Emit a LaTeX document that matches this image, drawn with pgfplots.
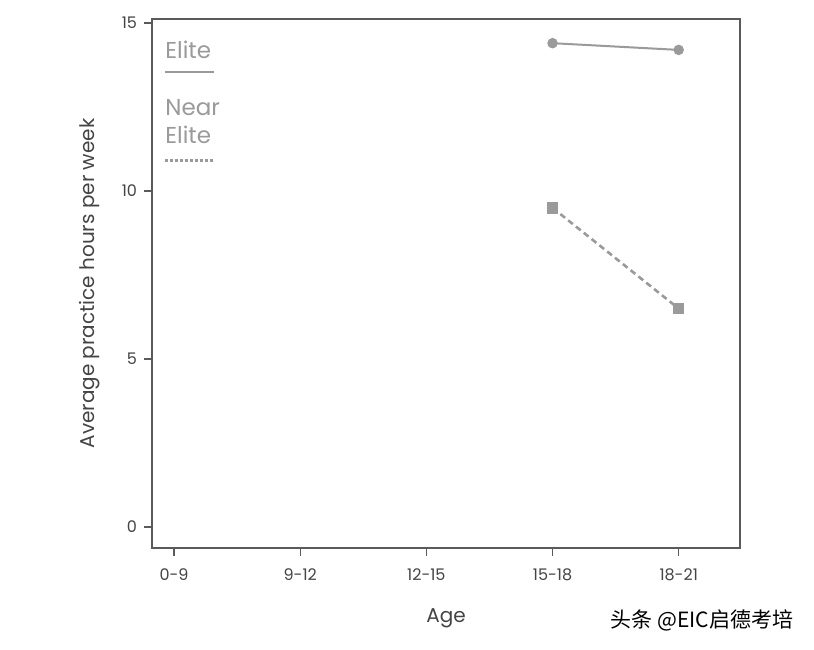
\documentclass[border=0pt]{standalone}
\usepackage{pgfplots}
\pgfplotsset{compat=1.18}
\usepackage{fontspec}
\setmainfont{Poppins}
\newfontfamily\cjk{Noto Sans CJK SC}
\definecolor{axisgray}{HTML}{5A5A5A}
\definecolor{datagray}{HTML}{9A9A9A}
\definecolor{textgray}{HTML}{444444}
\begin{document}
\begin{tikzpicture}
\useasboundingbox (0pt,0pt) rectangle (407pt,324.5pt);
\begin{axis}[
  at={(76pt,50.5pt)}, anchor=south west,
  scale only axis, width=294pt, height=264.5pt,
  xmin=-0.175, xmax=4.486, ymin=-0.625, ymax=15.12,
  xtick={0,1,2,3,4}, xticklabels={0-9,9-12,12-15,15-18,18-21},
  ytick={0,5,10,15},
  axis line style={axisgray, line width=0.9pt},
  tick style={axisgray, line width=0.7pt},
  tick align=outside, tick pos=left,
  major tick length=4pt,
  ticklabel style={font=\fontsize{8}{9}\selectfont, text=textgray},
  /pgf/number format/assume math mode=true,
  xticklabel style={yshift=-3pt},
  xlabel={Age}, ylabel={Average practice hours per week},
  label style={font=\fontsize{10}{12}\selectfont, text=textgray},
  xlabel style={yshift=-7pt},
  ylabel style={yshift=4pt},
  clip=false,
]
\addplot[datagray, line width=1pt, mark=*, mark size=2.1pt, mark options={solid, fill=datagray, draw=datagray}] coordinates {(3,14.4) (4,14.2)};
\addplot[datagray, line width=1.3pt, dash pattern=on 3pt off 2pt, mark=square*, mark size=2.2pt, mark options={solid, fill=datagray, draw=datagray}] coordinates {(3,9.5) (4,6.5)};
\node[anchor=west, text=datagray, font=\fontsize{11.5}{13}\selectfont, inner sep=0pt] at (rel axis cs:0.022,0.941) {Elite};
\draw[datagray, line width=1pt] (rel axis cs:0.022,0.900) -- (rel axis cs:0.105,0.900);
\node[anchor=west, text=datagray, font=\fontsize{11.5}{13}\selectfont, inner sep=0pt] at (rel axis cs:0.022,0.832) {Near};
\node[anchor=west, text=datagray, font=\fontsize{11.5}{13}\selectfont, inner sep=0pt] at (rel axis cs:0.022,0.781) {Elite};
\draw[datagray, line width=1.4pt, dash pattern=on 1.5pt off 1pt] (rel axis cs:0.022,0.733) -- (rel axis cs:0.105,0.733);
\end{axis}
\node[anchor=center, font=\cjk\fontsize{10.5}{12}\selectfont, text=black] at (351pt,14.5pt) {头条 @EIC启德考培};
\end{tikzpicture}
\end{document}
